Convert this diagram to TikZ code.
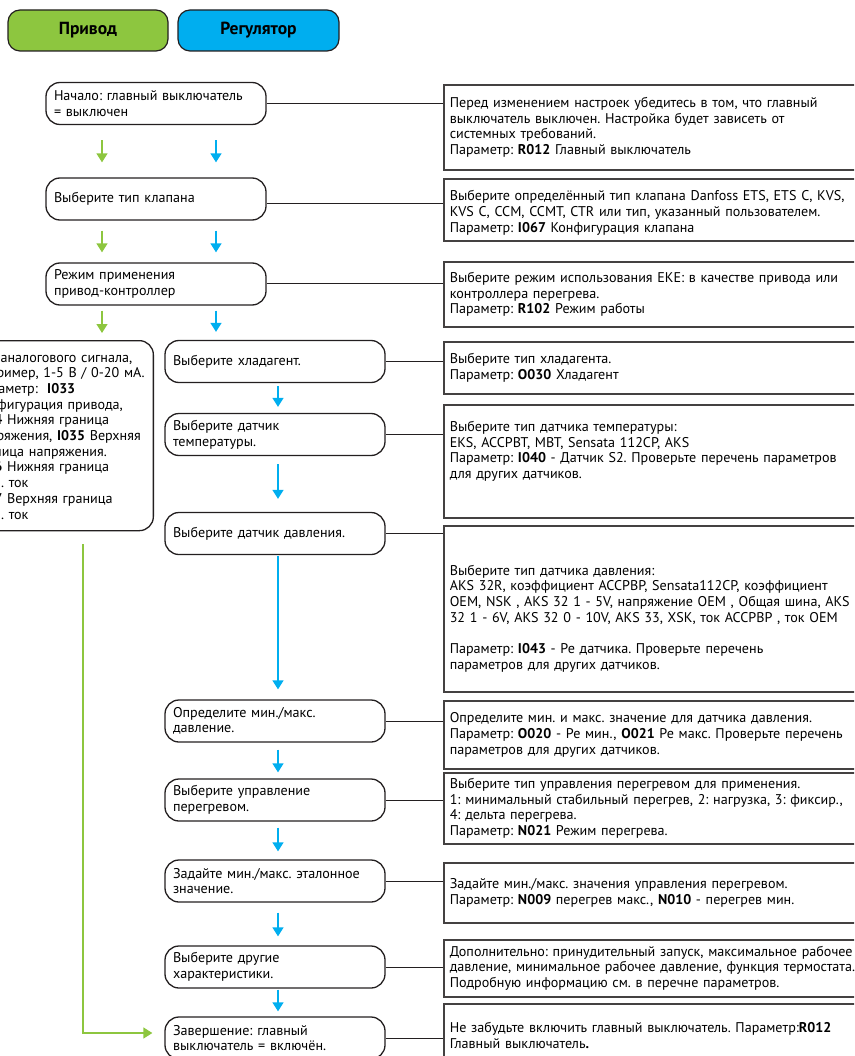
\documentclass[tikz,border=0pt]{standalone}
\usepackage{fontspec}
\setmainfont{PT Sans}
\usetikzlibrary{arrows.meta}
\definecolor{drvgreen}{HTML}{8DC63F}
\definecolor{regblue}{HTML}{00AEEF}
\definecolor{ink}{HTML}{231F20}
\frenchspacing

\begin{document}
\begin{tikzpicture}[x=1pt, y=-1pt,
  every node/.style={font=\fontsize{14.1}{15.7}\selectfont},
  tab/.style={draw=ink, line width=1.2pt, rounded corners=12pt, minimum width=160pt, minimum height=41pt, font=\fontsize{17.5}{19}\selectfont\bfseries},
  stepbox/.style={draw=ink, line width=1.3pt, rounded corners=14pt, minimum width=220pt, minimum height=42pt, inner xsep=8pt, inner ysep=3pt, text width=204pt, align=left},
  infobox/.style={draw=ink!85, line width=1.6pt, anchor=north west, inner xsep=6pt, inner ysep=2pt, text width=440pt, align=left},
  link/.style={draw=ink, line width=1pt},
  garrow/.style={draw=drvgreen, line width=1.4pt, -{Triangle[width=11pt,length=9pt]}},
  barrow/.style={draw=regblue, line width=1.4pt, -{Triangle[width=11pt,length=9pt]}}]
  \useasboundingbox (0,0) rectangle (854,1056);
  \clip (0,0) rectangle (854,1056);

  \node (drv) [tab, fill=drvgreen] at (88,30.5) {Привод};
  \node (reg) [tab, fill=regblue, minimum width=161pt] at (258.5,30.5) {Регулятор};

  \node (start) [stepbox] at (156,103.5) {Начало: главный выключатель\\= выключен};
  \node (valve) [stepbox] at (156,199) {Выберите тип клапана};
  \node (mode) [stepbox] at (156,284) {Режим применения\\привод-контроллер};
  \node (refr) [stepbox] at (275,361.5) {Выберите хладагент.};
  \node (temp) [stepbox] at (275,434.5) {Выберите датчик\\температуры.};
  \node (press) [stepbox] at (275,533.5) {Выберите датчик давления.};
  \node (minmax) [stepbox] at (275,721) {Определите мин./макс.\\давление.};
  \node (shctrl) [stepbox] at (275,800) {Выберите управление\\перегревом.};
  \node (refval) [stepbox] at (275,881) {Задайте мин./макс. эталонное\\значение.};
  \node (other) [stepbox] at (275,967) {Выберите другие\\характеристики.};
  \node (finish) [stepbox] at (275,1038) {Завершение: главный\\выключатель = включён.};

  \node (act) [draw=ink, line width=1.3pt, rounded corners=14pt, anchor=north east, minimum height=190pt, inner xsep=6pt, text width=173pt, align=left] at (154,340)
    {Тип аналогового сигнала,\\например, 1-5 В / 0-20 мА.\\Параметр:~ \textbf{I033}\\Конфигурация привода,\\\textbf{I034} Нижняя граница\\напряжения, \textbf{I035} Верхняя\\граница напряжения.\\\textbf{I036} Нижняя граница\\выш. ток\\\textbf{I037} Верхняя граница\\выш. ток};

  \node (i1) [infobox, minimum height=85pt] at (443,84) {Перед изменением настроек убедитесь в том, что главный\\выключатель выключен. Настройка будет зависеть от\\системных требований.\\Параметр: \textbf{R012} Главный выключатель};
  \node (i2) [infobox, minimum height=62pt] at (443,178) {\rule{0pt}{16pt}Выберите определённый тип клапана Danfoss ETS, ETS C, KVS,\\KVS C, CCM, CCMT, CTR или тип, указанный пользователем.\\Параметр: \textbf{I067} Конфигурация клапана};
  \node (i3) [infobox, minimum height=65pt] at (443,261) {Выберите режим использования EKE: в качестве привода или\\контроллера перегрева.\\Параметр: \textbf{R102} Режим работы};
  \node (i4) [infobox, minimum height=52pt] at (443,341) {Выберите тип хладагента.\\Параметр: \textbf{O030} Хладагент};
  \node (i5) [infobox, minimum height=113pt] at (443,404) {\rule{0pt}{21pt}Выберите тип датчика температуры:\\EKS, ACCPBT, MBT, Sensata 112CP, AKS\\Параметр: \textbf{I040} - Датчик S2. Проверьте перечень параметров\\для других датчиков.\\\rule{0pt}{30pt}};
  \node (i6) [infobox, minimum height=166pt] at (443,525) {\rule{0pt}{14pt}\\Выберите тип датчика давления:\\AKS 32R, коэффициент ACCPBP, Sensata112CP, коэффициент\\OEM, NSK , AKS 32 1 - 5V, напряжение OEM , Общая шина, AKS\\32 1 - 6V, AKS 32 0 - 10V, AKS 33, XSK, ток ACCPBP , ток OEM\\[15.7pt]Параметр: \textbf{I043} - Ре датчика. Проверьте перечень\\параметров для других датчиков.};
  \node (i7) [infobox, minimum height=68pt] at (443,700) {Определите мин. и макс. значение для датчика давления.\\Параметр: \textbf{O020} - Ре мин., \textbf{O021} Ре макс. Проверьте перечень\\параметров для других датчиков.};
  \node (i8) [infobox, minimum height=71pt] at (443,772) {Выберите тип управления перегревом для применения.\\1: минимальный стабильный перегрев, 2: нагрузка, 3: фиксир.,\\4: дельта перегрева.\\Параметр: \textbf{N021} Режим перегрева.};
  \node (i9) [infobox, minimum height=60pt] at (443,862) {Задайте мин./макс. значения управления перегревом.\\Параметр: \textbf{N009} перегрев макс., \textbf{N010} - перегрев мин.};
  \node (i10) [infobox, minimum height=57pt] at (443,939) {Дополнительно: принудительный запуск, максимальное рабочее\\давление, минимальное рабочее давление, функция термостата.\\Подробную информацию см. в перечне параметров.};
  \node (i11) [infobox, minimum height=64pt] at (443,1003) {Не забудьте включить главный выключатель. Параметр:\textbf{R012}\\Главный выключатель\textbf{.}};

  \draw[link] (start.east) -- (start.east -| i1.west);
  \draw[link] ([yshift=-5pt]valve.east) -- ([yshift=-5pt]valve.east -| i2.west);
  \draw[link] (mode.east) -- (mode.east -| i3.west);
  \draw[link] (refr.east) -- (refr.east -| i4.west);
  \draw[link] (temp.east) -- (temp.east -| i5.west);
  \draw[link] (press.east) -- (press.east -| i6.west);
  \draw[link] (minmax.east) -- (minmax.east -| i7.west);
  \draw[link] (shctrl.east) -- (shctrl.east -| i8.west);
  \draw[link] (refval.east) -- (refval.east -| i9.west);
  \draw[link] (other.east) -- (other.east -| i10.west);
  \draw[link] (finish.east) -- (finish.east -| i11.west);

  \coordinate (gcol) at (102,0);
  \coordinate (bcol) at (216,0);
  \coordinate (rcol) at (278,0);
  \coordinate (gline) at (83,0);
  \draw[garrow, shorten <=15pt, shorten >=15pt] (start.south -| gcol) -- (valve.north -| gcol);
  \draw[barrow, shorten <=15pt, shorten >=15pt] (start.south -| bcol) -- (valve.north -| bcol);
  \draw[garrow, shorten <=10pt, shorten >=10pt] (valve.south -| gcol) -- (mode.north -| gcol);
  \draw[barrow, shorten <=10pt, shorten >=10pt] (valve.south -| bcol) -- (mode.north -| bcol);
  \draw[garrow, shorten <=5pt, shorten >=7pt] (mode.south -| gcol) -- (act.north -| gcol);
  \draw[barrow, shorten <=5pt, shorten >=8pt] (mode.south -| bcol) -- (refr.north -| bcol);
  \draw[barrow, shorten <=3pt, shorten >=6pt] (refr.south -| rcol) -- (temp.north -| rcol);
  \draw[barrow, shorten <=8pt, shorten >=13pt] (temp.south -| rcol) -- (press.north -| rcol);
  \draw[barrow, shorten <=1pt, shorten >=10pt] (press.south -| rcol) -- (minmax.north -| rcol);
  \draw[barrow, shorten <=7pt, shorten >=6pt] (minmax.south -| rcol) -- (shctrl.north -| rcol);
  \draw[barrow, shorten <=6pt, shorten >=8pt] (shctrl.south -| rcol) -- (refval.north -| rcol);
  \draw[barrow, shorten <=10pt, shorten >=9pt] (refval.south -| rcol) -- (other.north -| rcol);
  \draw[barrow, shorten <=1pt, shorten >=5pt] (other.south -| rcol) -- (finish.north -| rcol);
  \draw[garrow, shorten <=13pt, shorten >=12pt] (act.south -| gline) |- ([yshift=5pt]finish.west);
\end{tikzpicture}
\end{document}
